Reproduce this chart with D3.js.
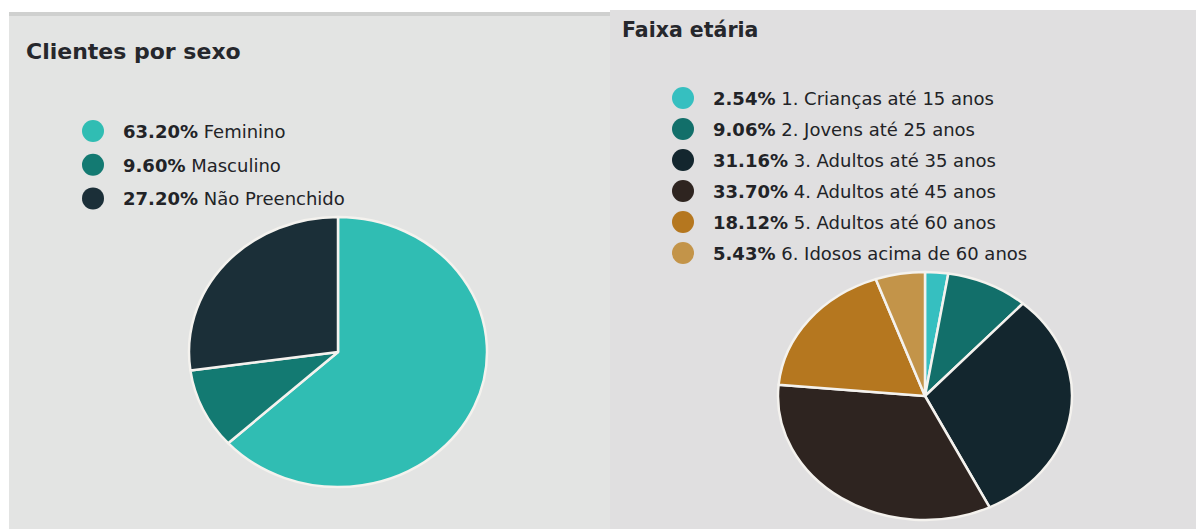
<!DOCTYPE html>
<html>
<head>
<meta charset="utf-8">
<script src="https://cdn.jsdelivr.net/npm/d3@7"></script>
<style>
  body { margin: 0; background: #ffffff; }
  svg { display: block; font-family: "DejaVu Sans", Arial, sans-serif; }
</style>
</head>
<body>
<svg id="canvas" width="1196" height="529"></svg>
<script>
// Clientes por sexo
const sexoLabels = ["Feminino", "Masculino", "Não Preenchido"]
const sexoValues = [63.20, 9.60, 27.20]
const sexoColors = ["#30bdb3", "#137a72", "#1b2f38"]

// Faixa etária
const idadeLabels = ["1. Crianças até 15 anos", "2. Jovens até 25 anos", "3. Adultos até 35 anos",
                     "4. Adultos até 45 anos", "5. Adultos até 60 anos", "6. Idosos acima de 60 anos"]
const idadeValues = [2.54, 9.06, 31.16, 33.70, 18.12, 5.43]
const idadeColors = ["#36bfc0", "#126f6a", "#13262e", "#2e2420", "#b5771f", "#c39449"]

let canvas = d3.select("#canvas")

function drawPanel(opts) {
  let g = canvas.append("g")

  g.append("rect")
   .attr("x", opts.x)
   .attr("y", opts.y)
   .attr("width", opts.w)
   .attr("height", opts.h)
   .attr("fill", opts.bg)

  g.append("rect")
   .attr("x", opts.x)
   .attr("y", opts.y)
   .attr("width", opts.w)
   .attr("height", 4)
   .attr("fill", opts.border)

  g.append("text")
   .attr("x", opts.titleX)
   .attr("y", opts.titleY)
   .attr("font-size", opts.titleSize)
   .attr("font-weight", "bold")
   .attr("fill", "#26272c")
   .text(opts.title)

  let color = d3.scaleOrdinal().domain(opts.labels).range(opts.colors)
  let rows = opts.labels.map((l, i) => ({label: l, value: opts.values[i]}))

  let legend = g.selectAll(".leg")
                .data(rows)
                .enter()
                .append("g")
                .attr("class", "leg")
                .attr("transform", (d, i) => "translate(" + opts.legX + "," + (opts.legY + i * opts.legStep) + ")")

  legend.append("circle")
        .attr("r", 11)
        .attr("fill", (d) => color(d.label))

  let txt = legend.append("text")
                  .attr("x", 30)
                  .attr("y", 7)
                  .attr("font-size", 18)
                  .attr("fill", "#222327")
  txt.append("tspan").attr("font-weight", "bold").text((d) => d.value.toFixed(2) + "%")
  txt.append("tspan").text((d) => " " + d.label)

  let pie = d3.pie().sort(null).value((d) => d.value)
  let arc = d3.arc().innerRadius(0).outerRadius(opts.rx)

  canvas.append("g")
        .attr("transform", "translate(" + opts.cx + "," + opts.cy + ") scale(1," + (opts.ry / opts.rx) + ")")
        .selectAll("path")
        .data(pie(rows))
        .enter()
        .append("path")
        .attr("d", arc)
        .attr("fill", (d) => color(d.data.label))
        .attr("stroke", "#f4f2ee")
        .attr("stroke-width", 2.5)
        .attr("vector-effect", "non-scaling-stroke")
        .attr("stroke-linejoin", "round")
}

drawPanel({
  x: 9, y: 12, w: 601, h: 517, bg: "#e3e4e3", border: "#cfd0cf",
  title: "Clientes por sexo", titleX: 26, titleY: 59, titleSize: 22,
  labels: sexoLabels, values: sexoValues, colors: sexoColors,
  legX: 93, legY: 131, legStep: 33.7,
  cx: 338, cy: 352, rx: 149, ry: 135
})

drawPanel({
  x: 610, y: 10, w: 586, h: 519, bg: "#e0dfe0", border: "#e0dfe0",
  title: "Faixa etária", titleX: 622, titleY: 37, titleSize: 20.5,
  labels: idadeLabels, values: idadeValues, colors: idadeColors,
  legX: 683, legY: 98, legStep: 31,
  cx: 925, cy: 396, rx: 147, ry: 124
})
</script>
</body>
</html>
